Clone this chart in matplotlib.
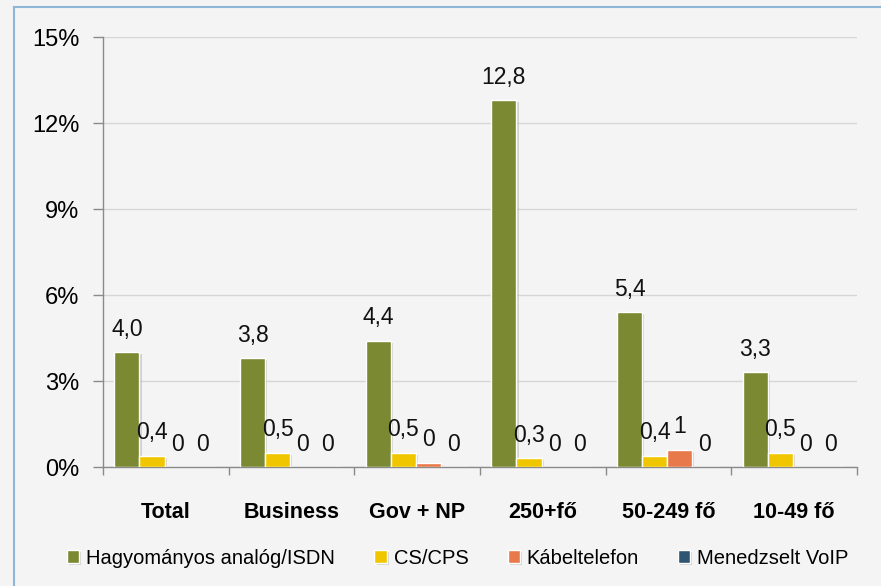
import matplotlib
matplotlib.use("Agg")
import matplotlib.pyplot as plt
import matplotlib.patheffects as pe
from matplotlib.lines import Line2D
from matplotlib.ticker import FixedLocator
import numpy as np

categories = ["Total", "Business", "Gov + NP", "250+fő", "50-249 fő", "10-49 fő"]
series_names = ["Hagyományos analóg/ISDN", "CS/CPS", "Kábeltelefon", "Menedzselt VoIP"]
analog_isdn = [4.0, 3.8, 4.4, 12.8, 5.4, 3.3]
cs_cps = [0.4, 0.5, 0.5, 0.3, 0.4, 0.5]
kabeltelefon = [0.0, 0.0, 0.15, 0.0, 0.6, 0.0]
voip = [0.0, 0.0, 0.0, 0.0, 0.0, 0.0]
label_decimals = [1, 1, 0, 0]
yticks = [0, 3, 6, 9, 12, 15]
ytick_labels = ["0%", "3%", "6%", "9%", "12%", "15%"]

colors = ["#7b8a32", "#f0c600", "#e8794a", "#2f5573"]
bg = "#f4f4f4"

plt.rcParams["font.family"] = ["Liberation Sans", "DejaVu Sans"]

W, H = 881, 586
fig = plt.figure(figsize=(W / 100, H / 100), dpi=100, facecolor=bg)
ax = fig.add_axes([103 / W, 1 - 467 / H, (857 - 103) / W, (467 - 37) / H])
ax.set_facecolor(bg)

series = [analog_isdn, cs_cps, kabeltelefon, voip]
x = np.arange(len(categories))
bw = 0.2
shadow = [pe.SimplePatchShadow(offset=(1.5, -1.5), shadow_rgbFace="#b0b0b0", alpha=0.5), pe.Normal()]
for i, (vals, name, col, dec) in enumerate(zip(series, series_names, colors, label_decimals)):
    pos = x - 0.31 + i * bw
    bars = ax.bar(pos, vals, width=bw, color=col, edgecolor="white", linewidth=1.0,
                  label=name, zorder=3)
    for b in bars:
        b.set_path_effects(shadow)
    for p, v in zip(pos, vals):
        txt = f"{v:.{dec}f}".replace(".", ",")
        ax.annotate(txt, (p, v), xytext=(0, 16.5), textcoords="offset points",
                    ha="center", va="center", fontsize=16.5, color="#111111", zorder=4)

ax.set_xlim(-0.5, len(categories) - 0.5)
ax.set_ylim(0, 15)
ax.set_yticks(yticks)
ax.set_yticklabels(ytick_labels, fontsize=17)
ax.yaxis.grid(True, color="#d6d6d6", linewidth=1.0, zorder=0)
ax.set_axisbelow(True)
ax.tick_params(axis="y", length=7, width=1, color="#8a8a8a", pad=10)

ax.set_xticks(x)
ax.set_xticklabels(categories, fontsize=15.5, fontweight="bold")
ax.tick_params(axis="x", which="major", length=0, pad=25)
ax.xaxis.set_minor_locator(FixedLocator(np.arange(-0.5, len(categories), 1.0)))
ax.tick_params(axis="x", which="minor", length=6, width=1, color="#8a8a8a")

for s in ["top", "right"]:
    ax.spines[s].set_visible(False)
for s in ["left", "bottom"]:
    ax.spines[s].set_color("#8a8a8a")
    ax.spines[s].set_linewidth(1.0)

fig.legend(loc="center", bbox_to_anchor=(458 / W, 1 - 558 / H), ncol=4, frameon=False,
           fontsize=14.5, handlelength=0.6, handleheight=0.6, handletextpad=0.35,
           columnspacing=1.95)

# outer frame lines
fig.add_artist(Line2D([14 / W, 14 / W], [0, 1 - 7 / H], color="#8db6d8", linewidth=1.5,
                      transform=fig.transFigure))
fig.add_artist(Line2D([14 / W, 1], [1 - 7 / H, 1 - 7 / H], color="#8db6d8", linewidth=1.5,
                      transform=fig.transFigure))

fig.savefig("out.png", dpi=100, facecolor=bg)
